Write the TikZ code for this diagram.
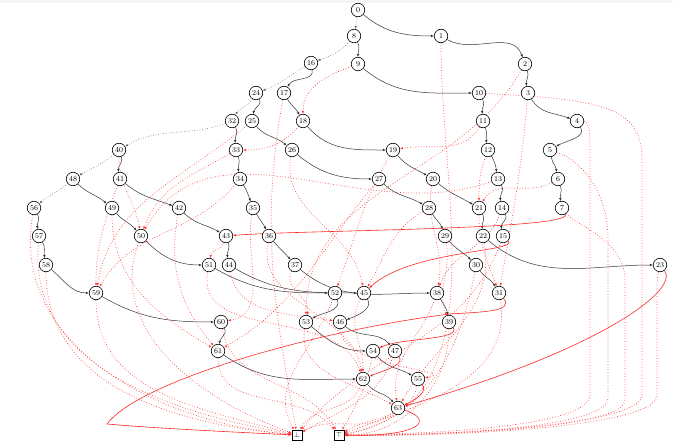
\documentclass[tikz,border=0pt]{standalone}
\usepackage{amsmath}
\usepackage{tikz}
\usetikzlibrary{arrows.meta}
\usetikzlibrary{backgrounds}

\begin{document}
\begin{tikzpicture}[x=1pt,y=-1pt,
  bddnode/.style={circle,draw,fill=white,line width=0.6pt,inner sep=0pt,minimum size=13.5pt,font=\fontsize{7.5}{8}\selectfont},
  termnode/.style={rectangle,draw,fill=white,line width=0.6pt,inner sep=0pt,minimum size=10pt,font=\fontsize{7.5}{8}\selectfont},
  hiedge/.style={-{Latex[length=3pt,width=2.5pt]},line width=0.5pt,black!80},
  loedge/.style={-{Latex[length=3pt,width=2.5pt]},line width=0.6pt,black!60,dotted},
  hineg/.style={-{Latex[length=3pt,width=2.5pt]},line width=0.6pt,red!85},
  loneg/.style={-{Latex[length=3pt,width=2.5pt]},line width=0.7pt,red!75,dotted}]
\useasboundingbox (0,0) rectangle (673,441);
\fill[black!4] (0,0) rectangle (673,3);
% draw decision nodes
\foreach \i/\x/\y in {0/358/10, 1/441/36, 2/525/64, 3/528/93, 4/577/121, 5/550/150, 6/558/179, 7/562/208,
  8/354/36, 9/358/64, 10/479/93, 11/483/121, 12/488/150, 13/498/179, 14/502/208, 15/503/236,
  16/311/63, 17/284/93, 18/303/121, 19/393/150, 20/433/179, 21/479/208, 22/483/236, 23/660/265,
  24/256/93, 25/252/121, 26/292/150, 27/379/179, 28/429/208, 29/445/236, 30/476/265, 31/499/293,
  32/232/121, 33/236/150, 34/240/179, 35/253/208, 36/269/236, 37/295/265, 38/437/293, 39/449/322,
  40/119/150, 41/120/179, 42/179/208, 43/226/236, 44/229/265, 45/364/293, 46/340/322, 47/395/351,
  48/73/179, 49/112/208, 50/141/236, 51/209/265, 52/335/293, 53/306/322, 54/373/351, 55/418/379,
  56/34/208, 57/39/236, 58/46/265, 59/96/293, 60/221/322, 61/218/351, 62/363/379, 63/398/408}
  \node[bddnode] (n\i) at (\x,\y) {\i};
% draw terminals
\node[termnode] (bot) at (297,435) {$\bot$};
\node[termnode] (top) at (339,435) {$\top$};
\begin{scope}[on background layer]
% draw high edges
\foreach \s/\t/\o/\a in {0/1/-40/180, 1/2/-30/110, 2/3/-70/100, 3/4/-60/160, 4/5/-60/30, 5/6/-80/100, 6/7/-70/100,
  8/9/-60/90, 9/10/-40/180, 10/11/-60/95, 11/12/-70/100, 12/13/-60/100, 13/14/-60/100, 14/15/-60/100,
  16/17/-80/60, 17/18/-60/120, 18/19/-50/180, 19/20/-50/150, 20/21/-40/150, 21/22/-60/95, 22/23/-40/180,
  24/25/-60/80, 25/26/-50/140, 26/27/-40/180, 27/28/-45/150, 28/29/-60/110, 29/30/-50/135, 30/31/-55/120,
  32/33/-60/95, 33/34/-70/100, 34/35/-60/110, 35/36/-60/115, 36/37/-50/130, 37/38/-40/180, 38/39/-60/100,
  40/41/-70/100, 41/42/-40/160, 42/43/-45/150, 43/44/-70/100, 44/45/-30/180, 45/46/-60/20, 46/47/-40/130,
  48/49/-45/140, 49/50/-50/130, 50/51/-45/180, 51/52/-30/180, 52/53/-70/30, 53/54/-40/180, 54/55/-50/150,
  56/57/-60/100, 57/58/-60/100, 58/59/-40/180, 59/60/-30/180, 60/61/-60/80, 61/62/-35/180, 62/63/-50/130}
  \draw[hiedge] (n\s) to[out=\o,in=\a] (n\t);
% draw low edges
\foreach \s/\t/\o/\a in {0/8/-100/80, 8/16/-130/20, 16/24/-150/20, 24/32/-120/60, 32/40/-160/30, 40/48/-140/30, 48/56/-140/40}
  \draw[loedge] (n\s) to[out=\o,in=\a] (n\t);
% draw negated low edges
\foreach \s/\t/\o/\a in {1/top/-90/10, 2/n53/-120/90, 3/n31/-95/80, 6/n21/-150/60,
  9/n18/-160/90, 11/n19/-120/10, 12/n21/-110/90, 13/n50/-160/60, 14/n38/-110/70,
  15/bot/-110/50, 17/bot/-100/100, 18/n33/-130/0, 19/n52/-120/70, 20/n38/-100/80, 21/n31/-90/110, 22/n63/-80/60,
  25/n59/-140/80, 26/n45/-100/100, 27/n61/-130/30, 28/n45/-150/60, 29/n39/-80/110, 30/top/-100/10,
  31/top/-80/20, 33/n50/-150/70, 34/n59/-130/60, 35/n60/-100/10, 36/n62/-100/100, 37/n53/-120/80, 38/n63/-110/100,
  39/top/-90/0, 40/n50/-90/100, 41/n59/-110/90, 42/n61/-100/130, 43/n51/-110/80, 44/n46/-80/170, 45/n62/-120/90,
  46/n55/-90/10, 47/bot/-110/30, 49/n61/-90/150, 50/bot/-110/160, 51/n62/-100/110, 52/bot/-110/120, 53/n63/-100/150,
  54/top/-100/60, 55/top/-100/30, 56/bot/-100/175, 57/bot/-95/170, 58/bot/-90/175, 59/bot/-90/165, 60/top/-80/120,
  61/top/-90/130, 62/bot/-110/60, 63/bot/-140/30}
  \draw[loneg] (n\s) to[out=\o,in=\a] (\t);
% long negated low edges round the right side
\draw[loneg] (n4) .. controls (590,122) and (590,135) .. (590,160) -- (590,395) .. controls (590,428) and (420,434) .. (top);
\draw[loneg] (n5) .. controls (580,160) and (608,190) .. (608,240) -- (608,398) .. controls (608,430) and (420,436) .. (top);
\draw[loneg] (n7) .. controls (575,225) and (625,240) .. (625,280) -- (625,400) .. controls (625,430) and (420,436) .. (top);
\draw[loneg] (n10) .. controls (600,100) and (642,105) .. (642,160) -- (642,395) .. controls (642,428) and (420,436) .. (top);
\draw[loneg] (n23) .. controls (657,280) .. (657,300) -- (657,395) .. controls (657,430) and (420,437) .. (top);
% draw negated high edges
\draw[hineg] (n7) .. controls (574,230) and (300,230) .. (n43);
\draw[hineg] (n15) .. controls (520,252) and (410,250) .. (n45);
\draw[hineg] (n23) .. controls (680,290) and (600,350) .. (n63);
\draw[hineg] (n31) .. controls (515,312) and (480,312) .. (450,314) .. controls (320,330) and (140,380) .. (107,424) .. controls (150,428) and (250,433) .. (bot);
\draw[hineg] (n39) .. controls (462,340) and (400,338) .. (n54);
\draw[hineg] (n47) .. controls (405,365) and (385,370) .. (n62);
\draw[hineg] (n55) .. controls (428,392) and (415,400) .. (n63);
\draw[hineg] (n63) .. controls (435,420) and (420,437) .. (top);
\end{scope}
\end{tikzpicture}
\end{document}
